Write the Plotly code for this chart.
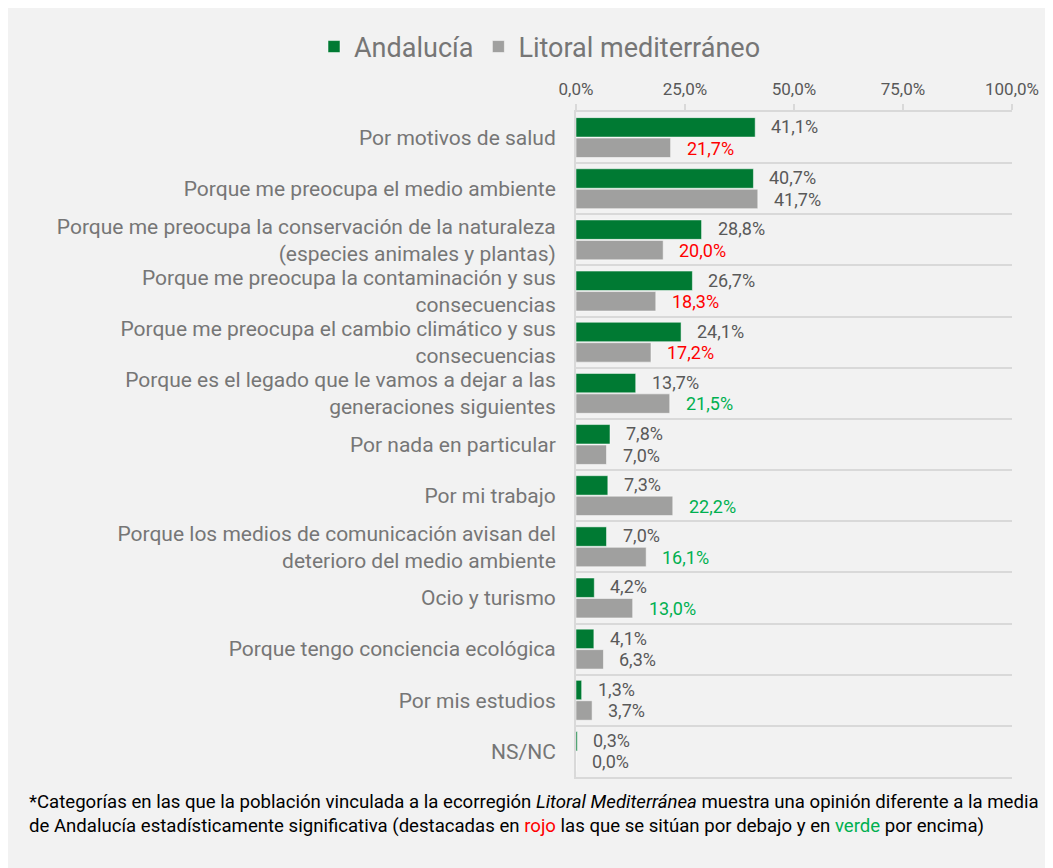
import plotly.graph_objects as go

categories = [
    "Por motivos de salud",
    "Porque me preocupa el medio ambiente",
    "Porque me preocupa la conservación de la naturaleza<br>(especies animales y plantas)",
    "Porque me preocupa la contaminación y sus<br>consecuencias",
    "Porque me preocupa el cambio climático y sus<br>consecuencias",
    "Porque es el legado que le vamos a dejar a las<br>generaciones siguientes",
    "Por nada en particular",
    "Por mi trabajo",
    "Porque los medios de comunicación avisan del<br>deterioro del medio ambiente",
    "Ocio y turismo",
    "Porque tengo conciencia ecológica",
    "Por mis estudios",
    "NS/NC",
]
andalucia = [41.1, 40.7, 28.8, 26.7, 24.1, 13.7, 7.8, 7.3, 7.0, 4.2, 4.1, 1.3, 0.3]
litoral = [21.7, 41.7, 20.0, 18.3, 17.2, 21.5, 7.0, 22.2, 16.1, 13.0, 6.3, 3.7, 0.0]
# significance of Litoral vs Andalucía: -1 below, +1 above, 0 not significant
litoral_sig = [-1, 0, -1, -1, -1, 1, 0, 1, 1, 1, 0, 0, 0]
tick_vals = [0, 25, 50, 75, 100]
tick_text = ["0,0%", "25,0%", "50,0%", "75,0%", "100,0%"]
series_names = ["Andalucía", "Litoral mediterráneo"]

GREEN = "#007a33"
GREYBAR = "#a0a09f"
TXT = "#595959"
LBL = "#767676"
RED = "#ff0000"
SIGGREEN = "#00b050"
BG = "#f2f2f2"
GRID = "#d9d9d9"
FONT = "Roboto"

W, H = 1053, 868
ML, MR, MT, MB = 568, 49, 104, 99
pw = W - ML - MR
ph = H - MT - MB


def fmt(v):
    return f"{v:.1f}".replace(".", ",") + "%"


fig = go.Figure()
fig.add_trace(go.Bar(
    name=series_names[0], y=categories, x=andalucia, orientation="h",
    marker=dict(color=GREEN, line=dict(color="rgba(255,255,255,0.5)", width=1)),
    hoverinfo="x+y",
))
fig.add_trace(go.Bar(
    name=series_names[1], y=categories, x=litoral, orientation="h",
    marker=dict(color=GREYBAR, line=dict(color="rgba(255,255,255,0.5)", width=1)),
    hoverinfo="x+y",
))

annotations = []
for cat, va, vl, s in zip(categories, andalucia, litoral, litoral_sig):
    annotations.append(dict(
        x=va, y=cat, xref="x", yref="y", text=fmt(va), showarrow=False,
        xanchor="left", yanchor="middle", xshift=14, yshift=11,
        font=dict(family=FONT, size=18, color=TXT),
    ))
    col = RED if s < 0 else (SIGGREEN if s > 0 else TXT)
    annotations.append(dict(
        x=vl, y=cat, xref="x", yref="y", text=fmt(vl), showarrow=False,
        xanchor="left", yanchor="middle", xshift=14, yshift=-10.5,
        font=dict(family=FONT, size=18, color=col),
    ))

note = ("*Categorías en las que la población vinculada a la ecorregión <i>Litoral Mediterránea</i> "
        "muestra una opinión diferente a la media<br>de Andalucía estadísticamente significativa "
        "(destacadas en <span style='color:#ff0000'>rojo</span> las que se sitúan por debajo y en "
        "<span style='color:#00b050'>verde</span> por encima)")
annotations.append(dict(
    x=(19 - ML) / pw, y=(H - MB - 806) / ph, xref="paper", yref="paper",
    text=note, showarrow=False, xanchor="left", yanchor="middle", align="left",
    font=dict(family=FONT, size=18.6, color="#000000"),
))

fig.update_layout(
    width=W, height=H,
    paper_bgcolor=BG, plot_bgcolor=BG,
    margin=dict(l=ML, r=MR, t=MT, b=MB, pad=0, autoexpand=False),
    barmode="group", bargap=0.2, bargroupgap=0.05,
    font=dict(family=FONT, color=TXT),
    legend=dict(
        orientation="h", xref="paper", yref="paper",
        x=(532 - ML) / pw, xanchor="center", y=(H - MB - 39) / ph, yanchor="middle",
        font=dict(family=FONT, size=27, color=LBL),
        itemclick=False, itemdoubleclick=False, bgcolor="rgba(0,0,0,0)",
    ),
    xaxis=dict(
        side="top", range=[0, 100], tickvals=tick_vals, ticktext=tick_text,
        showgrid=False, zeroline=False,
        showline=True, linecolor=GRID, linewidth=2, mirror=True,
        ticks="outside", ticklen=6, tickcolor=GRID, tickwidth=2,
        tickfont=dict(family=FONT, size=17, color=TXT),
        ticklabelstandoff=2,
    ),
    yaxis=dict(
        type="category", autorange="reversed",
        tickson="boundaries", showgrid=True, gridcolor=GRID, gridwidth=2,
        ticks="", showline=True, linecolor=GRID, linewidth=2,
        tickfont=dict(family=FONT, size=21, color=LBL),
        ticklabelstandoff=14,
    ),
    annotations=annotations,
)

fig.write_html("out.html")
